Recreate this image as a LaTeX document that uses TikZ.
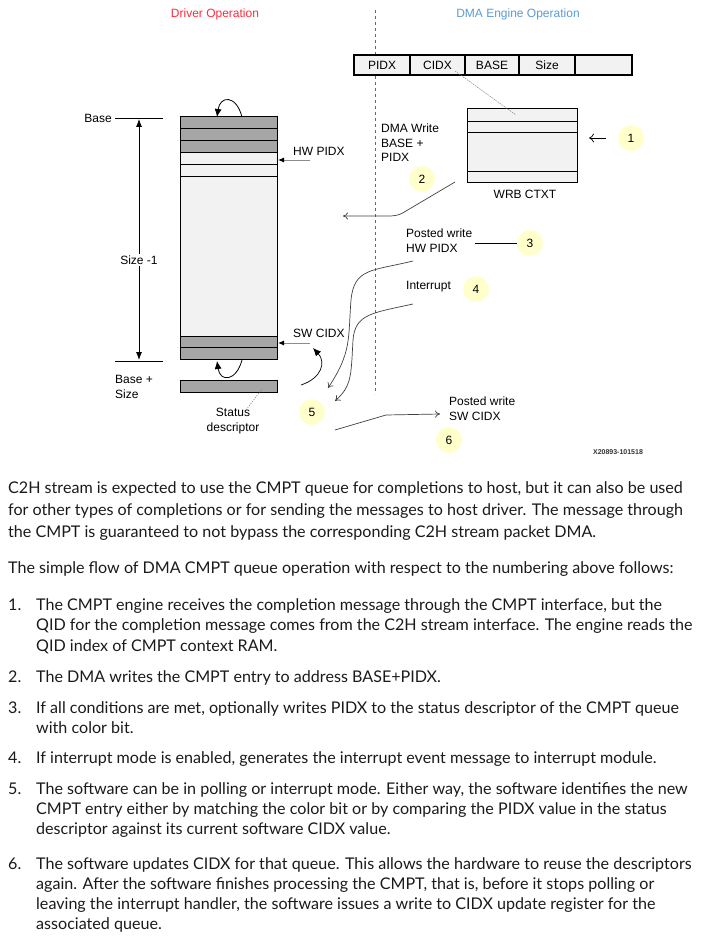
\documentclass[tikz,border=0pt]{standalone}
\usepackage{fontspec}
\setmainfont{Lato}
\newfontfamily\dfont{Liberation Sans}
\usetikzlibrary{arrows.meta}
\definecolor{drvred}{HTML}{FF2A3C}
\definecolor{dmablue}{HTML}{5B9BD5}
\definecolor{dark}{HTML}{A6A6A6}
\definecolor{light}{HTML}{F2F2F2}
\definecolor{bubble}{HTML}{FFFFCC}
\definecolor{bodytext}{HTML}{1A1A1A}
\tikzset{
  lbl/.style={font=\dfont\fontsize{12}{14}\selectfont, inner sep=0pt},
  num/.style={circle, fill=bubble, minimum size=26pt, inner sep=0pt, font=\dfont\fontsize{12}{14}\selectfont},
  flow/.style={draw=black!75, line width=0.7pt, -{To[length=5pt,width=7pt]}},
  ptr/.style={draw=black!45, line width=1pt, -{Latex[black,length=6pt,width=5pt]}},
  loop/.style={draw=black, line width=0.8pt, -{Latex[length=8pt,width=7pt]}},
  body/.style={font=\fontsize{16.1}{20}\selectfont, text=bodytext, anchor=base west, inner sep=0pt},
  darkrow/.style={draw=black, line width=1pt, fill=dark},
  lightrow/.style={draw=black, line width=1pt, fill=light}
}
\begin{document}
\begin{tikzpicture}[x=1pt,y=-1pt]
\useasboundingbox (0,0) rectangle (722,939);
% titles
\node[lbl, text=drvred] (tdrv) at (215,14) {Driver Operation};
\node[lbl, text=dmablue] (tdma) at (518,14) {DMA Engine Operation};
\draw[black!60, dashed, line width=0.6pt] (375,10) -- (375,394);
% register bar
\foreach \a/\b/\t in {354/410/PIDX,410/465/CIDX,465/519/BASE,519/575/Size,575/632/{}}{
  \draw[line width=1.8pt, fill=light] (\a,55) rectangle (\b,75);
  \node[lbl] at ({(\a+\b)/2},65) {\t};
}
\coordinate (cidx) at (455,71);
% WRB CTXT
\draw[lightrow] (467,109) rectangle (577,182);
\draw[line width=1pt] (467,122) -- (577,122) (467,133) -- (577,133) (467,171) -- (577,171);
\node[lbl] (wrb) at (525,194) {WRB CTXT};
\coordinate (wrbin) at (516,115);
\draw[black!50, line width=0.5pt, dash pattern=on 1.5pt off 1pt] (cidx) -- (wrbin);
\node[num] (n1) at (631,138) {1};
\coordinate (a1s) at (606,138);
\coordinate (a1e) at (589,138);
\draw[black, line width=0.7pt, -{To[length=5pt,width=9pt]}] (a1s) -- (a1e);
% DMA write
\node[lbl, anchor=north west, align=left, font=\dfont\fontsize{12}{14.5}\selectfont] (dmaw) at (381,124) {DMA Write\\BASE +\\PIDX};
\node[num] (n2) at (422,179) {2};
\coordinate (a2s) at (455,182);
\coordinate (a2e) at (343,216);
\draw[flow] (a2s) -- (406,211) .. controls (400,215) and (396,216) .. (388,216) -- (a2e);
% ring buffer
\draw[lightrow] (180,117) rectangle (277,359);
\draw[darkrow] (180,117) rectangle (277,129);
\draw[darkrow] (180,129) rectangle (277,140);
\draw[darkrow] (180,140) rectangle (277,152);
\draw[lightrow] (180,152) rectangle (277,164);
\draw[lightrow] (180,164) rectangle (277,176);
\draw[darkrow] (180,336) rectangle (277,347);
\draw[darkrow] (180,347) rectangle (277,359);
\draw[darkrow] (180,380) rectangle (277,392);
\coordinate (tl1) at (242,117);
\coordinate (tl2) at (217,117);
\draw[loop] (tl1) .. controls (236,94) and (220,96) .. (tl2);
\coordinate (bl1) at (242,360);
\coordinate (bl2) at (217,361);
\draw[loop] (bl1) .. controls (236,382) and (220,382) .. (bl2);
% base / size
\node[lbl, anchor=east] (base) at (112,118) {Base};
\draw[line width=0.8pt] (115,118) -- (163,118);
\draw[line width=0.8pt] (115,361) -- (163,361);
\coordinate (sz1) at (139,119);
\coordinate (sz2) at (139,360);
\draw[line width=0.8pt, {Latex[length=8pt,width=6pt]}-{Latex[length=8pt,width=6pt]}] (sz1) -- (sz2);
\node[lbl, fill=white, inner sep=2pt] (size) at (139,260) {Size -1};
\node[lbl, anchor=north west, align=left, font=\dfont\fontsize{12}{15}\selectfont] (bsz) at (115,375) {Base +\\Size};
% HW PIDX / SW CIDX
\node[lbl, anchor=west] (hwp) at (293,151) {HW PIDX};
\coordinate (hws) at (310,160);
\coordinate (hwe) at (278,160);
\draw[ptr] (hws) -- (hwe);
\node[lbl, anchor=west] (swc) at (293,333) {SW CIDX};
\coordinate (sws) at (310,343);
\coordinate (swe) at (278,343);
\draw[ptr] (sws) -- (swe);
\coordinate (c5s) at (301,385);
\coordinate (c5e) at (313,348);
\draw[loop, line width=0.7pt] (c5s) .. controls (322,378) and (326,362) .. (c5e);
% status descriptor
\node[lbl, align=center, font=\dfont\fontsize{12}{15}\selectfont] (stat) at (233,421) {Status\\descriptor};
\draw[black!50, line width=0.5pt, dash pattern=on 1.5pt off 1pt] (262,389) -- (246,410);
% step 3
\node[lbl, anchor=north west, align=left, font=\dfont\fontsize{12}{15}\selectfont] (pw1) at (406,229) {Posted write\\HW PIDX};
\node[num] (n3) at (530,243) {3};
\draw[line width=0.8pt] (475,243) -- (n3.west);
\coordinate (a3s) at (413,261);
\coordinate (a3e) at (328,388);
\draw[flow] (a3s) .. controls (372,271) and (354,268) .. (351,300) .. controls (348,338) and (352,352) .. (a3e);
% step 4
\node[lbl, anchor=west] (intr) at (406,287) {Interrupt};
\node[num] (n4) at (476,289) {4};
\coordinate (a4s) at (413,304);
\coordinate (a4e) at (335,401);
\draw[flow] (a4s) .. controls (372,313) and (355,314) .. (353,340) .. controls (351,375) and (352,386) .. (a4e);
% step 5
\node[num] (n5) at (312,412) {5};
% step 6
\coordinate (a6s) at (335,430);
\coordinate (a6e) at (440,414);
\draw[flow] (a6s) -- (386,415) -- (a6e);
\node[lbl, anchor=north west, align=left, font=\dfont\fontsize{12}{15}\selectfont] (pw2) at (449,397) {Posted write\\SW CIDX};
\node[num] (n6) at (449,440) {6};
\node[lbl, font=\dfont\bfseries\fontsize{7}{8}\selectfont, text=black!80] (xid) at (618,452) {X20893-101518};
% body text
\node[body] (p1a) at (8,493) {C2H stream is expected to use the CMPT queue for completions to host, but it can also be used};
\node[body] (p1b) at (8,515) {for other types of completions or for sending the messages to host driver. The message through};
\node[body] (p1c) at (8,537) {the CMPT is guaranteed to not bypass the corresponding C2H stream packet DMA.};
\node[body] (p2) at (8,573) {The simple flow of DMA CMPT queue operation with respect to the numbering above follows:};
\node[body] (i1) at (8,610) {1.};
\node[body] (i1a) at (36,610) {The CMPT engine receives the completion message through the CMPT interface, but the};
\node[body] (i1b) at (36,630.5) {QID for the completion message comes from the C2H stream interface. The engine reads the};
\node[body] (i1c) at (36,651) {QID index of CMPT context RAM.};
\node[body] (i2) at (8,682) {2.};
\node[body] (i2a) at (36,682) {The DMA writes the CMPT entry to address BASE+PIDX.};
\node[body] (i3) at (8,713) {3.};
\node[body] (i3a) at (36,713) {If all conditions are met, optionally writes PIDX to the status descriptor of the CMPT queue};
\node[body] (i3b) at (36,733) {with color bit.};
\node[body] (i4) at (8,763) {4.};
\node[body] (i4a) at (36,763) {If interrupt mode is enabled, generates the interrupt event message to interrupt module.};
\node[body] (i5) at (8,794) {5.};
\node[body] (i5a) at (36,794) {The software can be in polling or interrupt mode. Either way, the software identifies the new};
\node[body] (i5b) at (36,814) {CMPT entry either by matching the color bit or by comparing the PIDX value in the status};
\node[body] (i5c) at (36,834) {descriptor against its current software CIDX value.};
\node[body] (i6) at (8,869) {6.};
\node[body] (i6a) at (36,869) {The software updates CIDX for that queue. This allows the hardware to reuse the descriptors};
\node[body] (i6b) at (36,889) {again. After the software finishes processing the CMPT, that is, before it stops polling or};
\node[body] (i6c) at (36,909) {leaving the interrupt handler, the software issues a write to CIDX update register for the};
\node[body] (i6d) at (36,929) {associated queue.};
\end{tikzpicture}
\end{document}
